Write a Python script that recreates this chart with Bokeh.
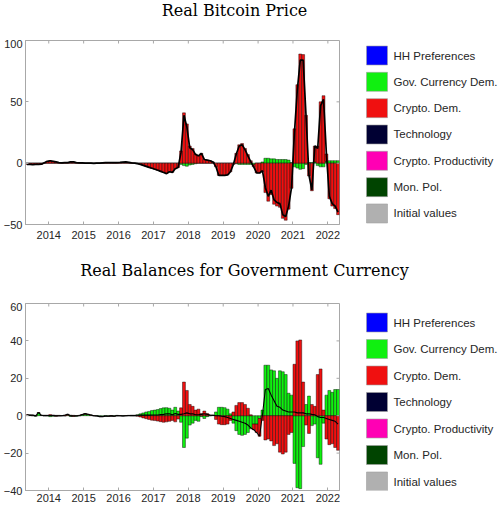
import pandas as pd
from bokeh.plotting import figure
from bokeh.layouts import column, row
from bokeh.models import Range1d, FixedTicker
from bokeh.core.properties import value
from bokeh.embed import file_html
from bokeh.resources import INLINE

# Monthly observations, May 2013 - April 2022
months = pd.date_range("2013-05-01", periods=108, freq="MS")
year_ticks = [2014, 2015, 2016, 2017, 2018, 2019, 2020, 2021, 2022]

# Real bitcoin price: historical decomposition (percent deviations)
btc_gov = [
    0.0, 0.0, 0.0, 0.0, 0.0, 0.0, 0.0, 0.0,
    0.0, 0.0, 0.0, 0.0, 0.0, 0.0, 0.0, 0.0, 0.0, 0.0, 0.0, 0.0,
    0.0, 0.0, 0.0, 0.0, 0.0, 0.0, 0.0, 0.0, 0.0, 0.0, 0.0, 0.0,
    0.0, 0.0, 0.0, 0.0, 0.0, 0.0, 0.0, 0.0, 0.0, 0.0, 0.0, 0.0,
    0.0, 0.0, 0.0, 0.0, 0.0, 0.0, 0.0, 0.0, 0.0, -1.0, -2.0, -2.5,
    -1.5, -1.0, -0.5, 0.0, 0.0, 0.0, 0.0, 0.0, 0.0, 0.0, 0.0, 0.0,
    0.0, 0.0, 0.0, 0.0, -0.5, -1.0, -1.0, -1.0, -1.0, -1.0, -1.0, 0.0,
    0.0, 1.0, 4.0, 4.0, 3.5, 3.5, 3.0, 3.0, 3.0, 3.0, 2.5, 0.5,
    -3.0, -4.0, -5.0, -4.5, -1.0, 0.5, 0.5, 1.0, -2.0, -3.0, -3.0, 1.5,
    2.0, 2.0, 2.0, 2.0,
]
btc_crypto = [
    -1.0, -1.0, -1.2, -1.0, -1.0, -0.8, 0.3, 1.5,
    2.0, 1.5, 1.0, 0.5, 0.3, 0.5, 0.5, 1.0, 1.0, 0.5, 0.3, 0.2,
    0.0, 0.0, 0.0, -0.2, 0.0, 0.0, 0.2, 0.4, 0.5, 0.5, 0.4, 0.5,
    0.6, 0.8, 1.0, 0.7, 0.3, 0.0, -0.4, -1.0, -1.8, -2.6, -3.4, -4.2,
    -5.0, -5.8, -6.7, -7.6, -8.5, -7.0, -7.5, -4.5, -3.5, 10.0, 41.0, 32.0,
    14.0, 12.0, 7.5, 6.0, 8.0, 3.0, 2.5, 2.0, 1.0, -3.0, -10.0, -10.0,
    -10.0, -9.5, -7.0, -1.0, 8.0, 15.0, 16.0, 12.0, 7.0, 2.0, -2.0, -8.0,
    -8.0, -7.0, -24.0, -31.0, -25.5, -33.5, -35.0, -36.0, -45.0, -46.5, -37.5, -20.5,
    28.0, 64.0, 89.0, 88.5, 39.0, -10.5, -22.5, 13.0, 14.0, 50.0, 55.0, 6.0,
    -29.0, -35.0, -37.0, -42.0,
]

# Real balances for government currency: historical decomposition
gov_gov = [
    0.3, 0.2, 0.0, -0.3, 1.6, 0.2, -0.2, 0.3,
    -0.5, -0.3, 0.2, -0.2, 0.0, -0.2, 0.3, -0.4, 0.2, -0.3, 0.2, 0.4,
    0.8, 0.6, 0.3, 0.1, -0.2, -0.3, -0.4, -0.3, -0.2, 0.1, -0.2, 0.2,
    0.1, -0.2, 0.1, 0.2, 0.3, 0.3, 0.5, 1.0, 1.5, 2.0, 2.3, 2.8,
    3.0, 3.3, 3.8, 4.2, 4.3, 4.0, 3.0, 4.5, 2.5, -3.5, -17.0, -12.0,
    -5.0, -4.0, -2.5, -3.0, -0.5, -1.5, -0.5, 0.0, 0.2, 2.0, 4.5, 4.5,
    4.3, 3.5, 1.0, -4.0, -8.0, -10.0, -10.5, -10.0, -9.0, -7.0, -4.5, -4.5,
    -1.5, 3.0, 27.0, 27.0, 24.5, 24.0, 20.0, 24.0, 23.5, 22.0, 12.0, 11.0,
    -25.5, -38.5, -39.0, -16.5, 6.0, 10.5, -5.3, -4.5, -22.5, -26.0, -4.0, 11.0,
    13.5, 12.5, 14.0, 14.0,
]
gov_crypto = [
    0.2, 0.1, 0.3, 0.2, 0.1, 0.0, 0.3, -0.2,
    0.6, 0.4, -0.3, 0.2, 0.0, 0.4, 0.5, 0.3, -0.4, 0.1, -0.1, 0.2,
    0.3, 0.2, 0.1, -0.1, 0.0, -0.2, -0.1, 0.0, -0.1, -0.2, -0.1, -0.1,
    -0.1, 0.0, -0.1, -0.1, -0.2, -0.2, -0.3, -0.7, -1.2, -1.6, -2.0, -2.4,
    -2.6, -2.9, -3.2, -3.5, -3.3, -3.0, -2.5, -3.3, -1.8, 4.2, 18.0, 13.5,
    6.0, 5.0, 3.0, 3.5, 1.2, 2.5, 1.2, 0.3, 0.0, -2.0, -4.5, -4.8,
    -4.8, -4.5, -2.5, 2.0, 5.5, 7.0, 7.0, 6.0, 4.0, 0.5, -3.0, -4.5,
    -9.5, -2.5, -13.0, -12.5, -13.5, -16.0, -15.0, -19.5, -20.5, -19.5, -10.0, -9.0,
    27.5, 40.0, 40.5, 18.0, -5.0, -9.5, 6.0, 5.0, 22.0, 25.0, 3.0, -12.5,
    -15.5, -15.0, -17.0, -18.5,
]

shock_labels = ["HH Preferences", "Gov. Currency Dem.", "Crypto. Dem.", "Technology",
                "Crypto. Productivity", "Mon. Pol.", "Initial values"]
shock_colors = ["#0000ff", "#10f010", "#f01010", "#000033", "#ff00b4", "#004400", "#b0b0b0"]

GREEN = shock_colors[1]
RED = shock_colors[2]
AXIS_GRAY = "#a8a8a8"
TEXT = "#262626"
FONT = "Liberation Sans"
PAGE_W = 498
PLOT_W = 340          # left border 22 + frame 317 + 1
FRAME_W = 317

xc = [d.year + (d.month - 1) / 12 + 1 / 24 for d in months]
x_lo = months[0].year + (months[0].month - 1) / 12
x_hi = x_lo + len(months) / 12


def bare(width, height, x_range, y_range, btop=0, bbot=0):
    f = figure(width=width, height=height, x_range=x_range, y_range=y_range,
               output_backend="svg", toolbar_location=None,
               x_axis_type=None, y_axis_type=None, min_border_left=0,
               min_border_right=0, min_border_top=btop, min_border_bottom=bbot)
    f.grid.visible = False
    f.outline_line_color = None
    return f


def title_strip(text, height, cx, baseline):
    t = bare(PAGE_W, height, Range1d(0, PAGE_W), Range1d(height, 0))
    t.text(x=[cx], y=[baseline], text=[text], text_font=value("DejaVu Serif"),
           text_font_size=value("16px"), text_align="center",
           text_baseline="alphabetic", text_color="black")
    return t


def legend_box(height, page_top, btop, bbot, first_mid, pitch):
    # same borders as the neighbouring plot, y range spans that frame in page pixels
    lg = bare(PAGE_W - PLOT_W, height, Range1d(PLOT_W, PAGE_W),
              Range1d(page_top + height - bbot, page_top + btop), btop, bbot)
    mids = [first_mid + k * pitch for k in range(len(shock_labels))]
    lg.rect(x=[376.5] * len(mids), y=mids, width=21, height=19,
            fill_color=shock_colors, line_color="#a0a0a0", line_width=0.6)
    lg.text(x=[393] * len(mids), y=mids, text=shock_labels,
            text_font=value(FONT), text_font_size=value("11.5px"),
            text_baseline="middle", text_align="left", text_color=TEXT)
    return lg


def panel(green, red, ylo, yhi, yticks, height, frame_h, bbot, standoff, line_w):
    p = figure(width=PLOT_W, height=height, x_range=Range1d(x_lo, x_hi),
               y_range=Range1d(ylo, yhi), output_backend="svg",
               toolbar_location=None, min_border_left=22, min_border_right=1,
               min_border_top=1, min_border_bottom=bbot)
    p.grid.visible = False
    p.outline_line_color = AXIS_GRAY
    p.xaxis.ticker = FixedTicker(ticks=year_ticks)
    p.yaxis.ticker = FixedTicker(ticks=yticks)
    for ax in (p.xaxis[0], p.yaxis[0]):
        ax.axis_line_color = AXIS_GRAY
        ax.major_tick_line_color = AXIS_GRAY
        ax.major_tick_in = 3
        ax.major_tick_out = 0
        ax.minor_tick_line_color = None
        ax.major_label_text_font = FONT
        ax.major_label_text_font_size = "11px"
        ax.major_label_text_color = TEXT
    p.yaxis.major_label_standoff = 3
    p.xaxis.major_label_standoff = standoff

    # stacked bars: positives pile upward, negatives downward
    pos = [0.0] * len(xc)
    neg = [0.0] * len(xc)
    for vals, color in ((green, GREEN), (red, RED)):
        bottoms, tops = [], []
        for k, v in enumerate(vals):
            if v >= 0:
                bottoms.append(pos[k]); pos[k] += v; tops.append(pos[k])
            else:
                bottoms.append(neg[k]); neg[k] += v; tops.append(neg[k])
        p.vbar(x=xc, bottom=bottoms, top=tops, width=1 / 12, fill_color=color,
               line_color="black", line_width=0.5, line_alpha=0.85)

    total = [g + r for g, r in zip(green, red)]
    p.line(xc, total, line_color="black", line_width=line_w)

    # inward tick marks along the top and right edges of the box
    dy = 3 * (yhi - ylo) / frame_h
    dx = 3 * (x_hi - x_lo) / FRAME_W
    p.segment(x0=year_ticks, y0=[yhi] * len(year_ticks), x1=year_ticks,
              y1=[yhi - dy] * len(year_ticks), line_color=AXIS_GRAY, line_width=1)
    p.segment(x0=[x_hi] * len(yticks), y0=yticks, x1=[x_hi - dx] * len(yticks),
              y1=yticks, line_color=AXIS_GRAY, line_width=1)
    return p


t1 = title_strip("Real Bitcoin Price", 39, 234, 9.5)
p1 = panel(btc_gov, btc_crypto, -50, 100, [-50, 0, 50, 100], 211, 184, 26, 6, 1.7)
l1 = legend_box(211, 39, 1, 26, 55, 26.33)

t2 = title_strip("Real Balances for Government Currency", 52, 244, 20)
p2 = panel(gov_gov, gov_crypto, -40, 60, [-40, -20, 0, 20, 40, 60], 203, 187, 15, 3, 1.1)
l2 = legend_box(203, 302, 1, 15, 322, 26.5)

layout = column(t1, row(p1, l1), t2, row(p2, l2))
open("out.html", "w").write(file_html(layout, INLINE))
